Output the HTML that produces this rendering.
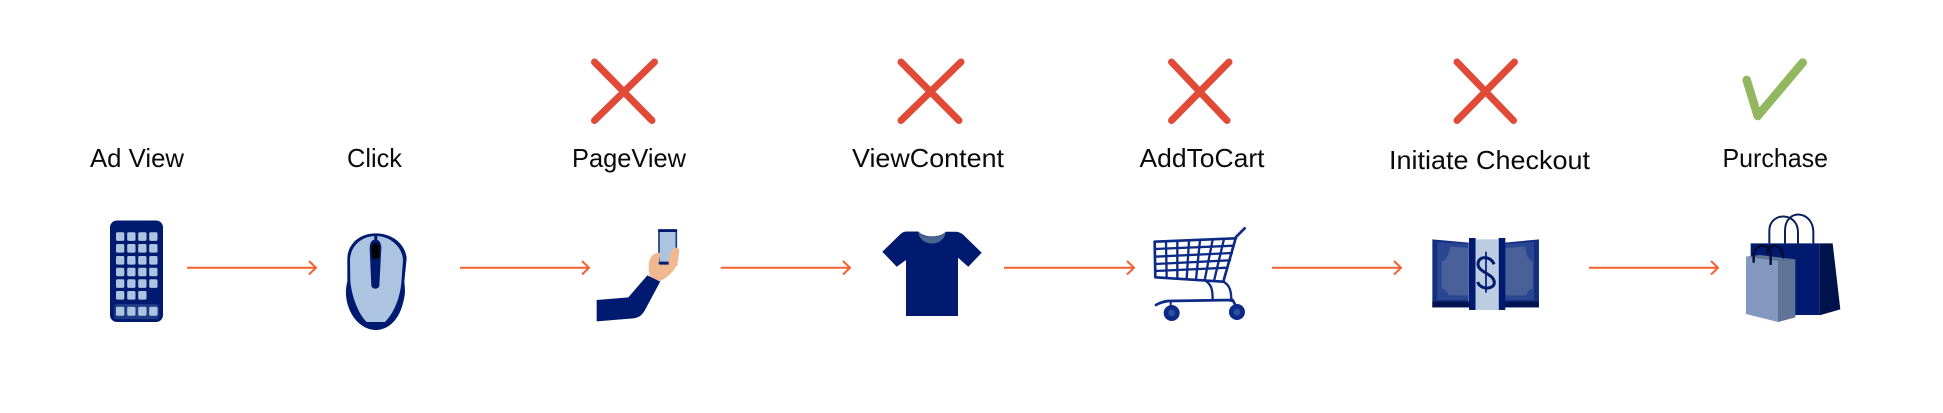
<!DOCTYPE html>
<html><head><meta charset="utf-8"><style>
html,body{margin:0;padding:0;background:#fff;width:1943px;height:413px;overflow:hidden}
svg{display:block}
text{font-family:"Liberation Sans",sans-serif;font-size:26px;fill:#0a0a0a}
</style></head><body>
<svg width="1943" height="413" viewBox="0 0 1943 413" xmlns="http://www.w3.org/2000/svg">
<text x="90" y="167" textLength="94" lengthAdjust="spacingAndGlyphs">Ad View</text>
<text x="347" y="167" textLength="55" lengthAdjust="spacingAndGlyphs">Click</text>
<text x="572" y="167" textLength="114" lengthAdjust="spacingAndGlyphs">PageView</text>
<text x="852" y="167" textLength="152" lengthAdjust="spacingAndGlyphs">ViewContent</text>
<text x="1139.5" y="167" textLength="125" lengthAdjust="spacingAndGlyphs">AddToCart</text>
<text x="1389" y="169" textLength="201" lengthAdjust="spacingAndGlyphs">Initiate Checkout</text>
<text x="1722.5" y="167" textLength="105.5" lengthAdjust="spacingAndGlyphs">Purchase</text>

<g stroke="#e04a37" stroke-width="7" stroke-linecap="round" fill="none">
<path d="M594.5 62L652 120.5M654.5 62L594.5 120.5"/>
<path d="M901 62L959 120.5M961 62L901 120.5"/>
<path d="M1171.5 62L1227 120.5M1229 62L1171.5 120.5"/>
<path d="M1457 62L1513.5 120.5M1514.5 62L1457 120.5"/>
</g>
<path d="M1746.7 80L1757.7 116L1802.7 62.5" fill="none" stroke="#93b75f" stroke-width="8.5" stroke-linecap="round" stroke-linejoin="round"/>

<g stroke="#f4602f" stroke-width="2" fill="none">
<path d="M187 267.7H316M309 261L316 267.7L309 274.5"/>
<path d="M460 267.7H589M582 261L589 267.7L582 274.5"/>
<path d="M720.7 267.7H850M843 261L850 267.7L843 274.5"/>
<path d="M1004 267.7H1134M1127 261L1134 267.7L1127 274.5"/>
<path d="M1272 267.7H1401M1394 261L1401 267.7L1394 274.5"/>
<path d="M1589 267.7H1718M1711 261L1718 267.7L1711 274.5"/>
</g>

<!-- keypad -->
<g>
<rect x="110" y="220.5" width="53" height="101.5" rx="7" fill="#001a70"/>
<rect x="114" y="304" width="45" height="15" rx="3" fill="#1c3a86"/>
<g fill="#adc4e0">
<rect x="116" y="232.3" width="8.3" height="8.6" rx="1.5"/><rect x="127.2" y="232.3" width="8.3" height="8.6" rx="1.5"/><rect x="138.2" y="232.3" width="8.3" height="8.6" rx="1.5"/><rect x="149.2" y="232.3" width="8.3" height="8.6" rx="1.5"/>
<rect x="116" y="244" width="8.3" height="8.6" rx="1.5"/><rect x="127.2" y="244" width="8.3" height="8.6" rx="1.5"/><rect x="138.2" y="244" width="8.3" height="8.6" rx="1.5"/><rect x="149.2" y="244" width="8.3" height="8.6" rx="1.5"/>
<rect x="116" y="256" width="8.3" height="8.6" rx="1.5"/><rect x="127.2" y="256" width="8.3" height="8.6" rx="1.5"/><rect x="138.2" y="256" width="8.3" height="8.6" rx="1.5"/><rect x="149.2" y="256" width="8.3" height="8.6" rx="1.5"/>
<rect x="116" y="267.7" width="8.3" height="8.6" rx="1.5"/><rect x="127.2" y="267.7" width="8.3" height="8.6" rx="1.5"/><rect x="138.2" y="267.7" width="8.3" height="8.6" rx="1.5"/><rect x="149.2" y="267.7" width="8.3" height="8.6" rx="1.5"/>
<rect x="116" y="279.3" width="8.3" height="8.6" rx="1.5"/><rect x="127.2" y="279.3" width="8.3" height="8.6" rx="1.5"/><rect x="138.2" y="279.3" width="8.3" height="8.6" rx="1.5"/><rect x="149.2" y="279.3" width="8.3" height="8.6" rx="1.5"/>
<rect x="116" y="291" width="8.3" height="8.6" rx="1.5"/><rect x="127.2" y="291" width="8.3" height="8.6" rx="1.5"/><rect x="138.2" y="291" width="8.3" height="8.6" rx="1.5"/>
<rect x="116" y="306.7" width="8.3" height="9" rx="1.5"/><rect x="127.2" y="306.7" width="8.3" height="9" rx="1.5"/><rect x="138.2" y="306.7" width="8.3" height="9" rx="1.5"/><rect x="149.2" y="306.7" width="8.3" height="9" rx="1.5"/>
</g>
</g>

<!-- mouse -->
<g transform="translate(335,225) scale(.3333)">
<path d="M122 25C70 25 38 60 37 100L37 170C31 190 31 220 40 245C55 290 90 315 122 315C160 315 193 285 205 230C212 205 210 190 208 170L215 100C212 60 175 25 122 25Z" fill="#001a70"/>
<path d="M122 33C78 33 46 65 45 105L46 170C50 210 68 265 95 291L150 291C180 260 198 210 200 160L204 105C202 65 165 33 122 33Z" fill="#adc4e0"/>
<path d="M118 30H127V50H118Z" fill="#001a70"/>
<path d="M121 44C109 44 104 55 104 70L109 182C111 194 131 194 133 182L139 70C139 55 134 44 121 44Z" fill="#001a70"/>
<rect x="110" y="54" width="23" height="48" rx="10" fill="#000"/>
</g>

<!-- hand + phone -->
<g transform="translate(590,220) scale(.3333)">
<rect x="207" y="30" width="52" height="104" fill="#adc4e0" stroke="#1c3a86" stroke-width="5"/>
<rect x="205" y="28" width="56" height="8" fill="#001a70"/>
<rect x="205" y="125" width="56" height="10" fill="#001a70"/>
<path d="M20 240L115 232L172 166L211 184L165 270C155 288 145 293 130 295L20 304Z" fill="#001a70"/>
<path d="M179 168C174 140 174 116 190 104C198 98 208 97 212 100L207 122C220 127 232 125 238 118C240 100 244 88 252 84C260 82 268 84 268 92L264 125C256 150 236 172 208 184Z" fill="#f0b88f"/>
<path d="M206 125H236V134H210C206 134 206 130 206 125Z" fill="#001a70"/>
</g>

<!-- shirt -->
<path d="M906.7 231.5H918.3C924 238 940 238 945.7 231.7H956.7C959 232 961 233 963 234.5L981.7 252.7L968.3 266.7L958 257.7V316H906V260L896.7 266.7L882.3 251.7L900 234.5C902 232.5 904 231.5 906.7 231.5Z" fill="#001a70"/>
<path d="M918.3 232C924 238.5 940 238.5 945.7 232C945 239 939 243.5 932 243.5C925 243.5 919 239 918.3 232Z" fill="#4a6590"/>

<!-- cart -->
<g transform="translate(1140,215) scale(.3333)" fill="none" stroke="#0c2a86" stroke-linecap="round" stroke-linejoin="round">
<path d="M314 40L288 66L250 200L46 187L44 80L288 70" stroke-width="8"/>
<path d="M44 102L282 92M45 125L276 114M45 147L270 136M46 168L262 158" stroke-width="7"/>
<path d="M78 82L80 188M112 80L112 190M147 78L140 192M180 76L168 194M218 74L194 196M252 72L222 198" stroke-width="7"/>
<path d="M198 198C215 210 218 225 218 255M250 200C270 210 274 230 274 258" stroke-width="7"/>
<path d="M48 270C60 262 70 260 85 258L278 255L285 268" stroke-width="8"/>
<path d="M92 260V272" stroke-width="6"/>
<circle cx="95" cy="294" r="24" fill="#0c2a86" stroke="none"/><circle cx="95" cy="294" r="10" fill="#2f4f9f" stroke="none"/>
<circle cx="291" cy="291" r="24" fill="#0c2a86" stroke="none"/><circle cx="291" cy="291" r="10" fill="#2f4f9f" stroke="none"/>
</g>

<!-- money -->
<g transform="translate(1420,220) scale(.3333)">
<path d="M37 58L146 68V262H37Z" fill="#142f80"/>
<path d="M357 58L254 68V262H357Z" fill="#142f80"/>
<rect x="37" y="245" width="110" height="17" fill="#00124f"/><rect x="254" y="245" width="103" height="17" fill="#00124f"/>
<path d="M52 66L146 72V240H52Z" fill="#2a4690"/>
<path d="M342 66L254 72V240H342Z" fill="#2a4690"/>
<path d="M90 80L146 84V226H85C85 215 75 208 65 205V125C78 120 90 100 90 80Z" fill="#4a6099"/>
<path d="M316 80L254 84V226H320C320 215 330 208 338 205V125C325 120 316 100 316 80Z" fill="#4a6099"/>
<rect x="147" y="54" width="20" height="216" fill="#001a70"/>
<rect x="236" y="54" width="20" height="216" fill="#001a70"/>
<rect x="167" y="58" width="69" height="212" fill="#bccde3"/>
<path d="M222 133C214 108 175 105 174 132C174 158 222 160 223 188C222 210 180 210 173 186" fill="none" stroke="#001a70" stroke-width="9"/>
<path d="M198 95V218" fill="none" stroke="#001a70" stroke-width="5"/>
</g>

<!-- bags -->
<g transform="translate(1740,200) scale(.3333)">
<path d="M32 130H238V345L165 345L32 300Z" fill="#001a70"/>
<path d="M238 130H278L301 328L238 346Z" fill="#00124a"/>
<path d="M88 130V90C90 35 172 35 174 95V148" fill="none" stroke="#0b2158" stroke-width="6"/>
<path d="M135 130V90C137 25 218 30 220 95V130" fill="none" stroke="#0b2158" stroke-width="6"/>
<path d="M18 170L114 182V366L18 342Z" fill="#8298be"/>
<path d="M114 182L166 178V352L114 366Z" fill="#5f7496"/>
<path d="M18 170L60 165L166 178L114 182Z" fill="#5f7496"/>
<path d="M41 188V165C48 125 92 130 92 165V195" fill="none" stroke="#000a30" stroke-width="7"/>
<path d="M80 160C88 125 128 130 130 175" fill="none" stroke="#000a30" stroke-width="7"/>
</g>
</svg>
</body></html>
